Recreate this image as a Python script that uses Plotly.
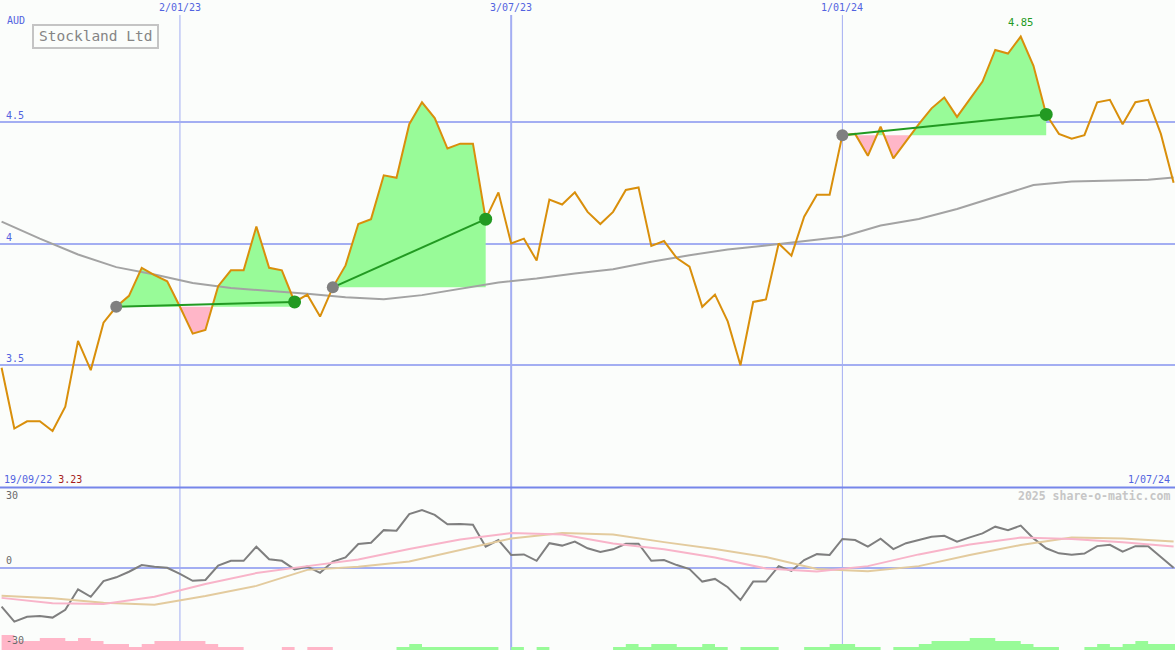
import pandas as pd
import plotly.graph_objects as go

# ---------------- data ----------------
start_date = "2022-09-26"
n_weeks = 93
dates = pd.date_range(start_date, periods=n_weeks, freq="7D")

price = [3.49, 3.24, 3.27, 3.27, 3.23, 3.33, 3.60, 3.48, 3.675, 3.74,
         3.785, 3.90, 3.87, 3.845, 3.74, 3.63, 3.645, 3.825, 3.89, 3.89,
         4.07, 3.90, 3.89, 3.76, 3.79, 3.70, 3.82, 3.91, 4.08, 4.10,
         4.28, 4.27, 4.49, 4.58, 4.515, 4.39, 4.41, 4.41, 4.10, 4.21,
         4.00, 4.02, 3.93, 4.18, 4.16, 4.21, 4.13, 4.08, 4.13, 4.22,
         4.23, 3.99, 4.01, 3.94, 3.905, 3.74, 3.79, 3.68, 3.50, 3.76,
         3.77, 4.00, 3.95, 4.11, 4.20, 4.20, 4.445, 4.45, 4.36, 4.48,
         4.35, 4.42, 4.49, 4.555, 4.60, 4.52, 4.59, 4.665, 4.795, 4.78,
         4.85, 4.73, 4.53, 4.45, 4.43, 4.445, 4.58, 4.59, 4.49, 4.58,
         4.59, 4.45, 4.25]

ma_idx = list(range(0, 91, 3)) + [92]
ma_vals = [4.09, 4.02, 3.955, 3.903, 3.873, 3.838, 3.817, 3.807, 3.794, 3.779,
           3.771, 3.788, 3.813, 3.840, 3.856, 3.877, 3.894, 3.925, 3.952, 3.975,
           3.992, 4.010, 4.028, 4.074, 4.101, 4.142, 4.191, 4.240, 4.255, 4.257,
           4.262, 4.271]

osc = [-14.5, -20.1, -18.3, -18.0, -18.6, -15.7, -8.0, -10.8, -4.9, -3.5,
       -1.4, 1.1, 0.5, 0.1, -2.2, -4.8, -4.5, 0.9, 2.7, 2.7,
       8.0, 3.3, 2.7, -0.5, 0.5, -1.8, 2.4, 4.0, 9.0, 9.5,
       14.2, 14.0, 20.2, 21.7, 19.9, 16.4, 16.5, 16.2, 8.0, 10.5,
       4.9, 5.1, 2.7, 9.3, 8.4, 9.9, 7.4, 6.0, 7.0, 9.1,
       9.1, 2.7, 3.0, 1.1, -0.4, -5.1, -4.1, -7.2, -12.0, -5.1,
       -5.1, 0.7, -1.1, 3.0, 5.2, 4.9, 10.9, 10.5, 8.0, 11.0,
       7.1, 9.3, 10.5, 11.7, 12.1, 9.9, 11.5, 13.0, 15.5, 14.2,
       15.9, 11.1, 7.4, 5.5, 5.0, 5.4, 8.2, 8.7, 6.1, 8.2,
       8.2, 4.2, 0.1]

sig_idx = list(range(0, 93, 4))
osc_fast = [-11.2, -13.2, -13.5, -10.8, -6.0, -1.9, 0.7, 3.2, 7.1, 10.7,
            13.1, 12.6, 9.2, 7.0, 3.9, -0.2, -1.3, 0.7, 5.1, 8.8,
            11.4, 10.9, 9.7, 8.1]
osc_slow = [-10.4, -11.3, -13.0, -13.8, -10.5, -6.7, -0.7, 0.5, 2.4, 6.7,
            11.1, 13.1, 12.6, 9.7, 7.1, 4.1, -0.4, -1.2, 0.7, 4.9,
            8.6, 11.4, 11.1, 9.9]

bars = [-5, -3, -3, -4, -4, -3, -4, -3, -2, -2,
        -1, -2, -3, -3, -3, -3, -2, -1, -1, 0,
        0, 0, -1, 0, -1, -1, 0, 0, 0, 0,
        0, 1, 2, 1, 1, 1, 1, 1, 1, 0,
        1, 0, 1, 0, 0, 0, 0, 0, 1, 2,
        1, 2, 2, 1, 1, 2, 1, 0, 1, 1,
        1, 0, 0, 1, 1, 2, 2, 1, 1, 0,
        1, 1, 2, 3, 3, 3, 4, 4, 3, 3,
        2, 1, 1, 0, 0, 1, 2, 1, 2, 3,
        2, 2, 2]

trades = [(9, 23), (26, 38), (66, 82)]

tick_dates = ["2023-01-02", "2023-07-03", "2024-01-01"]
tick_text = ["2/01/23", "3/07/23", "1/01/24"]
tick_widths = [1, 2, 1]
y_ticks = [3.5, 4, 4.5]
y_tick_text = ["3.5", "4", "4.5"]
osc_ticks = [30, 0, -30]

# ---------------- style ----------------
BG = "#fbfdfb"
GRID = "#a3aef2"
BLUE_TXT = "#5263e0"
FONT = "DejaVu Sans Mono"
X_RANGE = ["2022-09-25 03:00", "2024-07-01 18:30"]

fig = go.Figure()

# trade fills
for i0, i1 in trades:
    entry = price[i0]
    xs = [dates[i0]]
    ys = [price[i0]]
    for k in range(i0, i1):
        d0, d1 = price[k] - entry, price[k + 1] - entry
        if d0 * d1 < 0:
            f = d0 / (d0 - d1)
            xs.append(dates[k] + (dates[k + 1] - dates[k]) * f)
            ys.append(entry)
        xs.append(dates[k + 1])
        ys.append(price[k + 1])
    up = [max(v, entry) for v in ys] + [entry, entry]
    dn = [min(v, entry) for v in ys] + [entry, entry]
    px = xs + [xs[-1], xs[0]]
    fig.add_trace(go.Scatter(x=px, y=up, fill="toself", fillcolor="#98fb98",
                             line=dict(width=0), mode="lines", hoverinfo="skip"))
    fig.add_trace(go.Scatter(x=px, y=dn, fill="toself", fillcolor="#ffb6c8",
                             line=dict(width=0), mode="lines", hoverinfo="skip"))

# moving average
fig.add_trace(go.Scatter(x=[dates[i] for i in ma_idx], y=ma_vals, mode="lines",
                         line=dict(color="#a3a3a3", width=2)))
# price
fig.add_trace(go.Scatter(x=dates, y=price, mode="lines",
                         line=dict(color="#d98f0b", width=2)))
# trade lines and markers
for i0, i1 in trades:
    fig.add_trace(go.Scatter(x=[dates[i0], dates[i1]], y=[price[i0], price[i1]],
                             mode="lines", line=dict(color="#229a22", width=2)))
    fig.add_trace(go.Scatter(x=[dates[i0]], y=[price[i0]], mode="markers",
                             marker=dict(color="#808080", size=12)))
    fig.add_trace(go.Scatter(x=[dates[i1]], y=[price[i1]], mode="markers",
                             marker=dict(color="#229a22", size=13)))

# lower panel: bars
bar_x = list(dates) + [dates[-1] + pd.Timedelta(days=7)]
neg = [(-b if b < 0 else 0) for b in bars]
pos = [(b if b > 0 else 0) for b in bars]
fig.add_trace(go.Scatter(x=bar_x, y=neg + [neg[-1]], mode="lines", line=dict(width=0, shape="hv"),
                         fill="tozeroy", fillcolor="#ffb6c8", xaxis="x2", yaxis="y3"))
fig.add_trace(go.Scatter(x=bar_x, y=pos + [pos[-1]], mode="lines", line=dict(width=0, shape="hv"),
                         fill="tozeroy", fillcolor="#98fb98", xaxis="x2", yaxis="y3"))
# lower panel lines
fig.add_trace(go.Scatter(x=dates, y=osc, mode="lines", line=dict(color="#7f7f7f", width=2),
                         xaxis="x2", yaxis="y2"))
fig.add_trace(go.Scatter(x=[dates[i] for i in sig_idx], y=osc_slow, mode="lines",
                         line=dict(color="#e3cb9e", width=2), xaxis="x2", yaxis="y2"))
fig.add_trace(go.Scatter(x=[dates[i] for i in sig_idx], y=osc_fast, mode="lines",
                         line=dict(color="#f8b4c9", width=2), xaxis="x2", yaxis="y2"))

shapes = []
for d, w in zip(tick_dates, tick_widths):
    shapes.append(dict(type="line", xref="x", yref="paper", x0=d, x1=d, y0=0, y1=1 - 15 / 650,
                       line=dict(color=GRID, width=w), layer="below"))
shapes.append(dict(type="line", xref="paper", yref="paper", x0=0, x1=1, y0=1 - 487.5 / 650,
                   y1=1 - 487.5 / 650, line=dict(color="#7686ea", width=2)))
shapes.append(dict(type="rect", xref="paper", yref="paper", x0=33 / 1175, x1=158 / 1175,
                   y0=1 - 48 / 650, y1=1 - 25 / 650, line=dict(color="#c4c4c4", width=2)))

ann = []
for d, t in zip(tick_dates, tick_text):
    ann.append(dict(x=d, xref="x", y=1, yref="paper", yanchor="top", text=t, showarrow=False,
                    font=dict(family=FONT, size=10, color=BLUE_TXT)))
for v, t in zip(y_ticks, y_tick_text):
    ann.append(dict(x=0.003, xref="paper", xanchor="left", y=v, yref="y", yanchor="bottom",
                    text=t, showarrow=False, yshift=-1, font=dict(family=FONT, size=10, color=BLUE_TXT)))
for v in osc_ticks:
    ann.append(dict(x=0.003, xref="paper", xanchor="left", y=v, yref="y2",
                    yanchor="top" if v > 0 else "bottom", text=str(v), showarrow=False,
                    font=dict(family=FONT, size=10, color="#6a6a6a")))
ann.append(dict(x=0.004, xref="paper", xanchor="left", y=1 - 20 / 650, yref="paper", yanchor="middle",
                text="AUD", showarrow=False, font=dict(family=FONT, size=10, color=BLUE_TXT)))
ann.append(dict(x=95.5 / 1175, xref="paper", xanchor="center", y=1 - 36.5 / 650, yref="paper",
                yanchor="middle", text="Stockland Ltd", showarrow=False,
                font=dict(family=FONT, size=14.5, color="#858585")))
ann.append(dict(x=dates[80], xref="x", y=max(price), yref="y", yanchor="bottom", yshift=7,
                text=f"{max(price):.2f}", showarrow=False, font=dict(family=FONT, size=10.5, color="#229a22")))
ann.append(dict(x=0.0015, xref="paper", xanchor="left", y=1 - 479 / 650, yref="paper", yanchor="middle",
                text="19/09/22 <span style='color:#a51c1c'>3.23</span>", showarrow=False,
                font=dict(family=FONT, size=10, color=BLUE_TXT)))
ann.append(dict(x=0.9975, xref="paper", xanchor="right", y=1 - 479 / 650, yref="paper", yanchor="middle",
                text="1/07/24", showarrow=False, font=dict(family=FONT, size=10, color=BLUE_TXT)))
ann.append(dict(x=0.9975, xref="paper", xanchor="right", y=1 - 496 / 650, yref="paper", yanchor="middle",
                text="<b>2025 share-o-matic.com</b>", showarrow=False,
                font=dict(family=FONT, size=11.5, color="#c6c6c6")))

fig.update_layout(
    width=1175, height=650, margin=dict(l=0, r=0, t=0, b=0),
    paper_bgcolor=BG, plot_bgcolor=BG, showlegend=False, hovermode=False,
    xaxis=dict(domain=[0, 1], range=X_RANGE, type="date", showgrid=False, showticklabels=False,
               zeroline=False, anchor="y"),
    xaxis2=dict(domain=[0, 1], range=X_RANGE, type="date", showgrid=False, showticklabels=False,
                zeroline=False, anchor="y2", matches="x"),
    yaxis=dict(domain=[163 / 650, 1], range=[3.0, 5.0], tickvals=y_ticks, showgrid=True,
               gridcolor=GRID, gridwidth=2, showticklabels=False, zeroline=False),
    yaxis2=dict(domain=[0, 162 / 650], range=[-30.75, 30], tickvals=[0], showgrid=True,
                gridcolor=GRID, gridwidth=2, showticklabels=False, zeroline=False),
    yaxis3=dict(overlaying="y2", range=[0, 54], visible=False),
    shapes=shapes, annotations=ann,
)

fig.write_html("out.html", config={"displayModeBar": False},
               post_script="document.body.style.margin='0';document.body.style.overflow='hidden';")
